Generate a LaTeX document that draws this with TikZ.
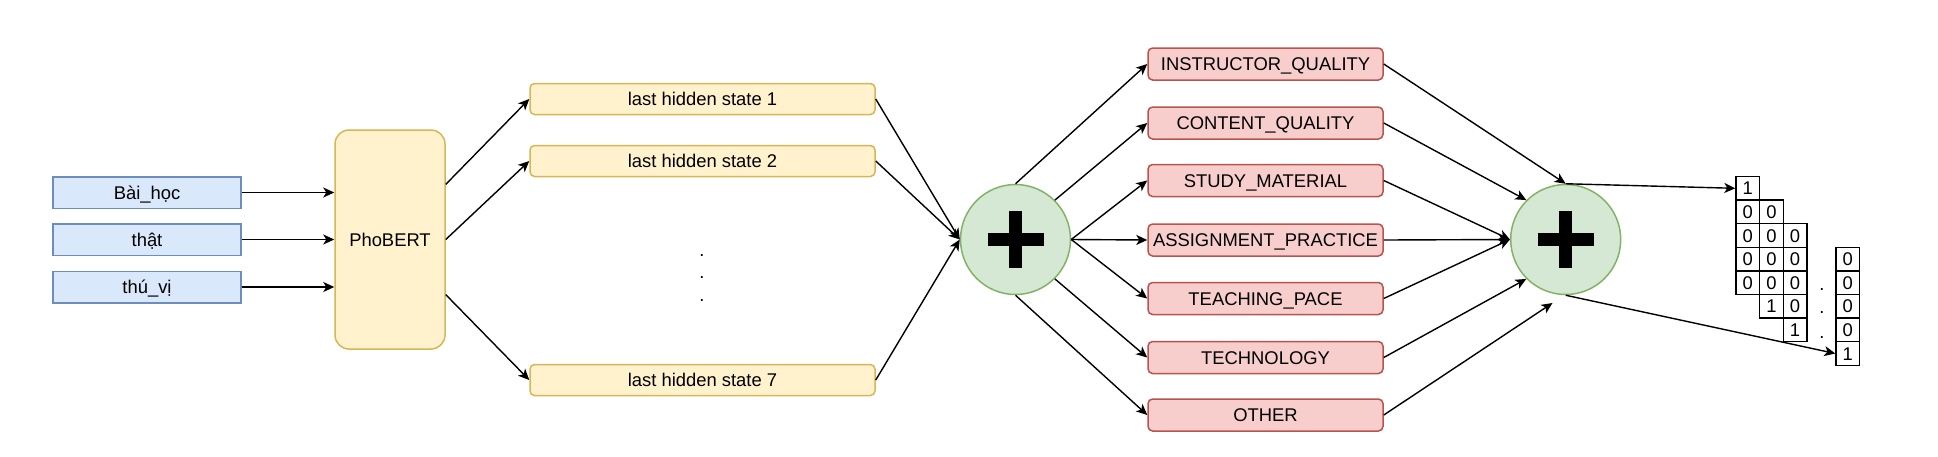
\documentclass[tikz,border=0pt]{standalone}
\usepackage{fontspec}
\setmainfont{Liberation Sans}
\usetikzlibrary{arrows.meta,calc}
\definecolor{bluefill}{HTML}{DAE8FC}\definecolor{bluedraw}{HTML}{6C8EBF}
\definecolor{yelfill}{HTML}{FFF2CC}\definecolor{yeldraw}{HTML}{D6B656}
\definecolor{redfill}{HTML}{F8CECC}\definecolor{reddraw}{HTML}{B85450}
\definecolor{grnfill}{HTML}{D5E8D4}\definecolor{grndraw}{HTML}{82B366}
\begin{document}
\begin{tikzpicture}[x=0.5pt,y=-0.5pt,
  every node/.style={font=\fontsize{9.2}{11}\selectfont, inner sep=0pt, text=black, text height=6.6pt, text depth=0pt},
  tokbox/.style={draw=bluedraw, fill=bluefill, line width=0.75pt, minimum width=94pt, minimum height=15.75pt},
  bertbox/.style={draw=yeldraw, fill=yelfill, line width=0.75pt, rounded corners=7pt, minimum width=55pt, minimum height=109.5pt},
  hidbox/.style={draw=yeldraw, fill=yelfill, line width=0.75pt, rounded corners=2.3pt, minimum width=172.5pt, minimum height=15.5pt},
  labbox/.style={draw=reddraw, fill=redfill, line width=0.75pt, rounded corners=2.3pt, minimum width=117.5pt, minimum height=16pt},
  sumcirc/.style={circle, draw=grndraw, fill=grnfill, line width=0.75pt, minimum size=55pt},
  cell/.style={draw=black, line width=0.7pt, minimum size=11.8pt},
  conn/.style={line width=0.7pt, -{Stealth[length=5.5pt,width=5pt,inset=1.5pt]}},
  plusbar/.style={line width=6.5pt, black}
]
\useasboundingbox (0,0) rectangle (1938,456);

% input tokens
\node[tokbox] (in1) at (147,192.5) {Bài\_học};
\node[tokbox] (in2) at (147,239.5) {thật};
\node[tokbox] (in3) at (147,287) {thú\_vị};

% PhoBERT
\node[bertbox] (bert) at (390,239.5) {PhoBERT};

% hidden states
\node[hidbox] (h1) at (702.5,99) {last hidden state 1};
\node[hidbox] (h2) at (702.5,161) {last hidden state 2};
\node[hidbox] (h7) at (702.5,380) {last hidden state 7};
\node[anchor=base] (vd1) at (702,256) {.};
\node[anchor=base] (vd2) at (702,278) {.};
\node[anchor=base] (vd3) at (702,301) {.};

% first sum
\node[sumcirc] (c1) at (1015.5,239.5) {};
\draw[plusbar] ($(c1.center)+(-28,0)$) -- ($(c1.center)+(28,0)$);
\draw[plusbar] ($(c1.center)+(0,-28.5)$) -- ($(c1.center)+(0,28.5)$);

% labels
\node[labbox] (r1) at (1265.5,64) {INSTRUCTOR\_QUALITY};
\node[labbox] (r2) at (1265.5,123) {CONTENT\_QUALITY};
\node[labbox] (r3) at (1265.5,180.5) {STUDY\_MATERIAL};
\node[labbox] (r4) at (1265.5,240) {ASSIGNMENT\_PRACTICE};
\node[labbox] (r5) at (1265.5,298.5) {TEACHING\_PACE};
\node[labbox] (r6) at (1265.5,357.5) {TECHNOLOGY};
\node[labbox] (r7) at (1265.5,415) {OTHER};

% second sum
\node[sumcirc] (c2) at (1565.7,239.5) {};
\draw[plusbar] ($(c2.center)+(-28,0)$) -- ($(c2.center)+(28,0)$);
\draw[plusbar] ($(c2.center)+(0,-28.5)$) -- ($(c2.center)+(0,28.5)$);
\coordinate (c2in7) at (1552.5,303);

% one-hot grid
\foreach \v [count=\r] in {1,0,0,0,0}
  \node[cell] (ga\r) at (1747.8,{188.3+23.6*(\r-1)}) {\v};
\foreach \v [count=\r] in {0,0,0,0,1}
  \node[cell] (gb\r) at (1771.4,{188.3+23.6*\r}) {\v};
\foreach \v [count=\r] in {0,0,0,0,1}
  \node[cell] (gc\r) at (1795.0,{188.3+23.6*(\r+1)}) {\v};
\foreach \v [count=\r] in {0,0,0,0,1}
  \node[cell] (gd\r) at (1847.8,{188.3+23.6*(\r+2)}) {\v};
\node[anchor=base] (gdot1) at (1822,290) {.};
\node[anchor=base] (gdot2) at (1822,313.5) {.};
\node[anchor=base] (gdot3) at (1822,338) {.};

% connectors
\draw[conn] (in1.east) -- (in1.east -| bert.west);
\draw[conn] (in2.east) -- (in2.east -| bert.west);
\draw[conn] (in3.east) -- (in3.east -| bert.west);

\draw[conn] ($(bert.north east)!0.25!(bert.south east)$) -- (h1.west);
\draw[conn] (bert.east) -- (h2.west);
\draw[conn] ($(bert.north east)!0.75!(bert.south east)$) -- (h7.west);

\draw[conn] (h1.east) -- (c1.west);
\draw[conn] (h2.east) -- (c1.west);
\draw[conn] (h7.east) -- (c1.west);

\draw[conn] (c1.north) -- (r1.west);
\draw[conn] (c1.45) -- (r2.west);
\draw[conn] (c1.east) -- (r3.west);
\draw[conn] (c1.east) -- (r4.west);
\draw[conn] (c1.east) -- (r5.west);
\draw[conn] (c1.-45) -- (r6.west);
\draw[conn] (c1.south) -- (r7.west);

\draw[conn] (r1.east) -- (c2.north);
\draw[conn] (r2.east) -- (c2.135);
\draw[conn] (r3.east) -- (c2.west);
\draw[conn] (r4.east) -- (c2.west);
\draw[conn] (r5.east) -- (c2.west);
\draw[conn] (r6.east) -- (c2.-135);
\draw[conn] (r7.east) -- (c2in7);

\draw[conn] (c2.north) -- (ga1.west);
\draw[conn] (c2.south) -- (gd5.west);
\end{tikzpicture}
\end{document}
